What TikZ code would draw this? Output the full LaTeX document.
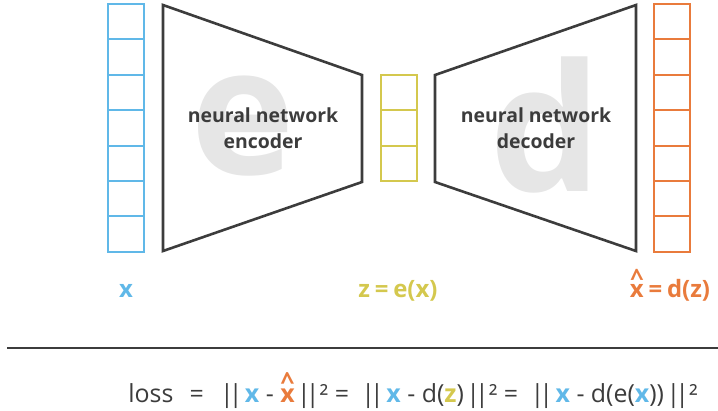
\documentclass[tikz,border=0pt]{standalone}
\usepackage{fontspec}
\setmainfont{Open Sans}
\usetikzlibrary{calc}

\definecolor{inblue}{RGB}{96,184,232}
\definecolor{codeyellow}{RGB}{212,200,78}
\definecolor{outorange}{RGB}{233,123,60}
\definecolor{darkline}{RGB}{60,60,60}
\definecolor{ghost}{RGB}{230,230,230}

% x with a caret on top
\newcommand{\xhat}{\ooalign{x\cr\hidewidth\raisebox{0.45em}{\textasciicircum}\hidewidth\cr}}
% double bar of the norm
\newcommand{\nrm}{|\kern-0.2em|}

\tikzset{
  cell/.style={line width=2bp},
  net/.style={line width=2.6bp, darkline, line join=miter},
  nettext/.style={align=center, font=\fontsize{19.5}{26}\selectfont\bfseries, text=darkline, inner sep=0pt},
  ghostletter/.style={anchor=base, inner sep=0pt, text=ghost, font=\fontsize{178}{178}\selectfont\bfseries},
  veclabel/.style={anchor=base, inner sep=0pt, font=\fontsize{24}{24}\selectfont\bfseries},
}

\begin{document}
\begin{tikzpicture}[x=1bp, y=-1bp]

  \useasboundingbox (0,0) rectangle (718,410);

  % Cell geometry
  \def\c{35.4}
  \coordinate (inTop)   at (108, 4);    % input column x
  \coordinate (codeTop) at (381, 75);   % code column z
  \coordinate (outTop)  at (654, 4);    % output column x hat

  % Ghost letters behind the networks
  \node[ghostletter] (eghost) at (243, 174) {e};
  \node[ghostletter] (dghost) at (546, 191) {d};

  % Encoder and decoder outlines
  \coordinate (e1) at (163, 5);
  \coordinate (e2) at (362, 75);
  \coordinate (e3) at (362, 182);
  \coordinate (e4) at (163, 251);
  \draw[net] (e1) -- (e2) -- (e3) -- (e4) -- cycle;

  \coordinate (d1) at (435, 75);
  \coordinate (d2) at (636, 5);
  \coordinate (d3) at (636, 251);
  \coordinate (d4) at (435, 182);
  \draw[net] (d1) -- (d2) -- (d3) -- (d4) -- cycle;

  \node[nettext] (enctext) at (263, 128) {neural network\\encoder};
  \node[nettext] (dectext) at (536, 128) {neural network\\decoder};

  % Vector columns
  \foreach \i in {0,...,6}
    \draw[cell, inblue] ($(inTop)+(0,\i*\c)$) rectangle ++(35.5,\c);
  \foreach \i in {0,...,2}
    \draw[cell, codeyellow] ($(codeTop)+(0,\i*\c)$) rectangle ++(35.5,\c);
  \foreach \i in {0,...,6}
    \draw[cell, outorange] ($(outTop)+(0,\i*\c)$) rectangle ++(35.5,\c);

  % Labels under the columns
  \node[veclabel, inblue]     (xlab)    at (126, 297) {x};
  \node[veclabel, codeyellow] (zlab)    at (398, 297) {z\kern.2em=\kern.2em e(x)};
  \node[veclabel, outorange]  (xhatlab) at (670, 297) {\xhat\kern.2em=\kern.2em d(z)};

  % Rule and loss
  \coordinate (ruleL) at (7, 348);
  \coordinate (ruleR) at (718, 348);
  \draw[line width=1.3bp, darkline] (ruleL) -- (ruleR);

  \node[anchor=base, inner sep=0pt, text=darkline, font=\fontsize{25}{25}\selectfont] (loss) at (413, 402)
    {loss\hspace{.65em}=\hspace{.65em}\nrm\kern.1em{\color{inblue}\bfseries x} - {\color{outorange}\bfseries\xhat}\kern.1em\nrm²
     =\hspace{.5em}\nrm\kern.1em{\color{inblue}\bfseries x} - d({\color{codeyellow}\bfseries z})\kern.1em\nrm²
     =\hspace{.5em}\nrm\kern.1em{\color{inblue}\bfseries x} - d(e({\color{inblue}\bfseries x}))\kern.1em\nrm²};

\end{tikzpicture}
\end{document}
